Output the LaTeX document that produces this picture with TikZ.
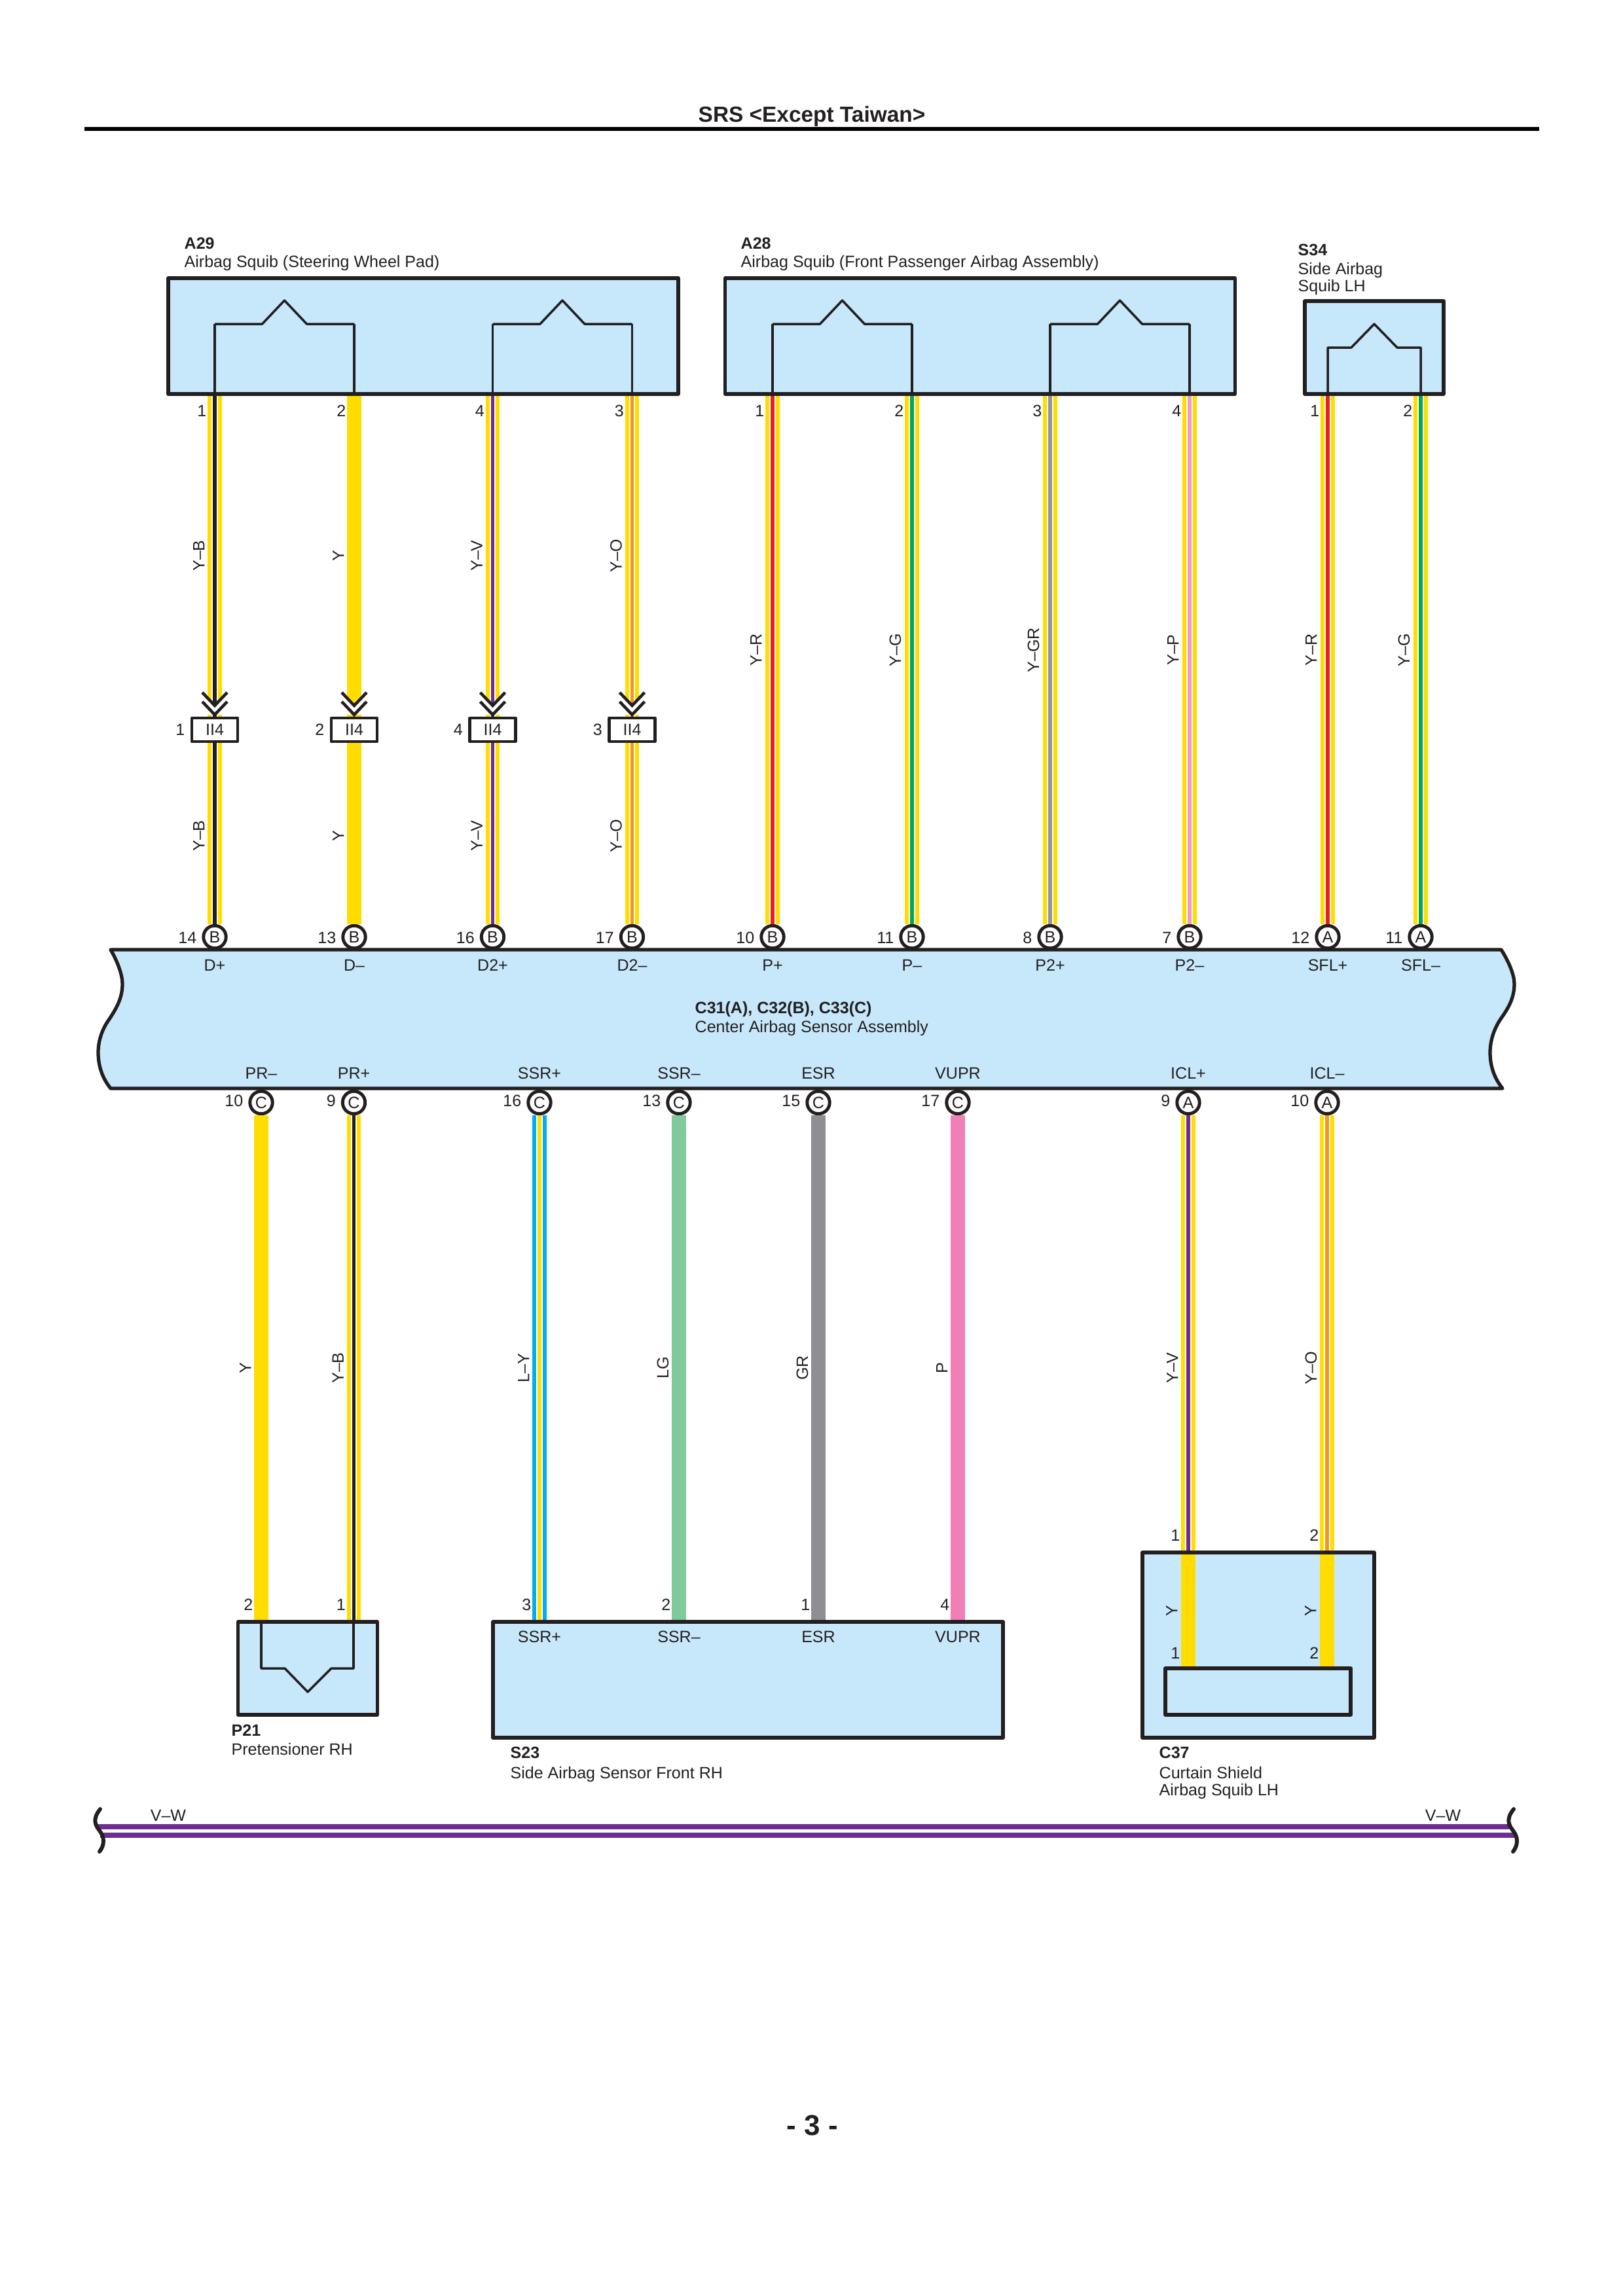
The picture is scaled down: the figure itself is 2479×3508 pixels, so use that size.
\documentclass[tikz,border=0pt]{standalone}
\usepackage{fontspec}
\setmainfont{Liberation Sans}
\definecolor{boxblue}{HTML}{C7E8FB}
\definecolor{inkblack}{HTML}{231F20}
\definecolor{wireyellow}{HTML}{FFDD00}
\definecolor{wirepurple}{HTML}{6F2C91}
\definecolor{wireorange}{HTML}{F7941D}
\definecolor{wirered}{HTML}{ED1C24}
\definecolor{wiregreen}{HTML}{00A651}
\definecolor{wiregrey}{HTML}{939598}
\definecolor{wirepink}{HTML}{F49AC1}
\definecolor{wirecyan}{HTML}{00AEEF}
\definecolor{wirelg}{HTML}{80C99B}
\definecolor{wiregr}{HTML}{8E8E93}
\definecolor{wirep}{HTML}{EF7FB5}
\tikzset{
  wire/.style 2 args={draw=#1,line width=6pt,postaction={draw=white,line width=2.7pt},postaction={draw=#2,line width=1.5pt}},
  wireYB/.style={wire={wireyellow}{inkblack}},
  wireYV/.style={wire={wireyellow}{wirepurple}},
  wireYO/.style={wire={wireyellow}{wireorange}},
  wireYR/.style={wire={wireyellow}{wirered}},
  wireYG/.style={wire={wireyellow}{wiregreen}},
  wireYGR/.style={wire={wireyellow}{wiregrey}},
  wireYP/.style={wire={wireyellow}{wirepink}},
  wireLY/.style={wire={wirecyan}{wireyellow}},
  wireY/.style={draw=wireyellow,line width=6pt},
  wireLG/.style={draw=wirelg,line width=6pt},
  wireGR/.style={draw=wiregr,line width=6pt},
  wireP/.style={draw=wirep,line width=6pt},
  txt/.style={font=\fontsize{7.12}{7.6}\selectfont,text=inkblack,inner sep=0pt},
  boldtxt/.style={txt,font=\fontsize{7.12}{7.6}\selectfont\bfseries},
  wirelbl/.style={txt,rotate=90,anchor=south},
  compbox/.style 2 args={draw=inkblack,fill=boxblue,line width=1.5pt,line join=round,inner sep=0pt,minimum width=#1*0.01cm,minimum height=#2*0.01cm},
  squib/.style={draw=inkblack,line width=1pt,line join=round},
  pinnode/.style={circle,draw=inkblack,fill=white,line width=1.4pt,minimum size=9.8pt,inner sep=0pt,txt},
  ionode/.style={draw=inkblack,fill=white,line width=1.3pt,line join=round,minimum width=0.7cm,minimum height=0.36cm,inner sep=0pt,txt},
  chevron/.style={draw=inkblack,line width=1.3pt,line join=miter},
  chevmask/.style={fill=white},
  bus/.style={draw=wirepurple,line width=2.1pt},
  brk/.style={draw=inkblack,line width=1.7pt,line cap=round}
}
\begin{document}
\begin{tikzpicture}[x=0.01cm,y=-0.01cm]
\useasboundingbox (0,0) rectangle (2479,3508);
\draw (1240,186) node[font=\fontsize{9.5}{10}\selectfont\bfseries,text=inkblack,inner sep=0pt,anchor=base] (title) {SRS <Except Taiwan>};
\draw[draw=black,line width=1.5pt] (129,197) -- (2351,197);
\draw (1241,3262) node[font=\fontsize{12.5}{13}\selectfont\bfseries,text=inkblack,inner sep=0pt,anchor=base] (pageno) {- 3 -};

\node[compbox={779}{177}] (a29) at (646.5,513.5) {};
\node[compbox={779}{177}] (a28) at (1497,513.5) {};
\node[compbox={212}{142}] (s34) at (2099,531) {};
\node[compbox={213}{142}] (p21) at (470,2549) {};
\node[compbox={779}{177}] (s23) at (1142.5,2566.5) {};
\node[compbox={354}{283}] (c37) at (1922,2513.5) {};
\node[compbox={283}{71}] (c37in) at (1921.5,2584.5) {};

\draw (281,380) node[boldtxt,anchor=base west] (a29id) {A29};
\draw (281,408) node[txt,anchor=base west] (a29txt) {Airbag Squib (Steering Wheel Pad)};
\draw (1131,380) node[boldtxt,anchor=base west] (a28id) {A28};
\draw (1131,408) node[txt,anchor=base west] (a28txt) {Airbag Squib (Front Passenger Airbag Assembly)};
\draw (1982,390) node[boldtxt,anchor=base west] (s34id) {S34};
\draw (1982,419) node[txt,anchor=base west] (s34txt) {Side Airbag};
\draw (1982,445) node[txt,anchor=base west] (s34txtb) {Squib LH};
\draw (353,2652) node[boldtxt,anchor=base west] (p21id) {P21};
\draw (353,2681) node[txt,anchor=base west] (p21txt) {Pretensioner RH};
\draw (779,2686) node[boldtxt,anchor=base west] (s23id) {S23};
\draw (779,2717) node[txt,anchor=base west] (s23txt) {Side Airbag Sensor Front RH};
\draw (1770,2686) node[boldtxt,anchor=base west] (c37id) {C37};
\draw (1770,2717) node[txt,anchor=base west] (c37txt) {Curtain Shield};
\draw (1770,2743) node[txt,anchor=base west] (c37txtb) {Airbag Squib LH};

\foreach \x in {328,541,752.5,965.5,1180,1393,1604,1817}
\draw[squib] (\x,602) -- (\x,495);
\foreach \xa/\xb in {328/541,752.5/965.5,1180/1393,1604/1817}
\draw[squib] (\xa,495) -- ({(\xa+\xb)/2-34},495) -- ({(\xa+\xb)/2},459) -- ({(\xa+\xb)/2+34},495) -- (\xb,495);
\draw[squib] (2028,602) -- (2028,531) -- (2064,531) -- (2099,495) -- (2134,531) -- (2170,531) -- (2170,602);
\draw[squib] (399,2478) -- (399,2549) -- (435,2549) -- (470,2585) -- (506,2549) -- (540,2549) -- (540,2478);

\draw[draw=inkblack,fill=boxblue,line width=1.5pt,line join=round] (169,1451) -- (2293,1451)
  .. controls (2305,1470) and (2313,1490) .. (2313,1503)
  .. controls (2313,1525) and (2304,1540) .. (2292,1557)
  .. controls (2282,1572) and (2276,1590) .. (2276,1608)
  .. controls (2276,1630) and (2283,1648) .. (2295,1663)
  -- (169,1663)
  .. controls (157,1648) and (150,1630) .. (150,1608)
  .. controls (150,1590) and (156,1572) .. (167,1557)
  .. controls (178,1540) and (187,1525) .. (187,1503)
  .. controls (187,1490) and (180,1470) .. (169,1451) -- cycle;
\draw (1061,1548) node[boldtxt,anchor=base west] (ecuid) {C31(A), C32(B), C33(C)};
\draw (1061,1577) node[txt,anchor=base west] (ecutxt) {Center Airbag Sensor Assembly};

\foreach \x/\n/\bn/\ion/\pn/\sig/\sty/\lab in {
328/a/1/1/14/D+/wireYB/Y–B,
541/b/2/2/13/D–/wireY/Y,
752.5/c/4/4/16/D2+/wireYV/Y–V,
965.5/d/3/3/17/D2–/wireYO/Y–O}
{
\node[pinnode] (top\n) at (\x,1431.5) {B};
\node[ionode] (io\n) at (\x,1115) {II4};
\draw[\sty] (io\n.north |- a29.south) -- (io\n.north);
\fill[chevmask] (\x-11,1067) -- (\x,1079) -- (\x+11,1067) -- (\x+11,1092) -- (\x-11,1092) -- cycle;
\draw[chevron] (\x-19,1058) -- (\x,1078) -- (\x+19,1058);
\draw[chevron] (\x-19,1072) -- (\x,1092) -- (\x+19,1072);
\draw[\sty] (io\n.south) -- (top\n.north);
\draw (\x-12,636) node[txt,anchor=base east] (bn\n) {\bn};
\draw (\x-45,1123) node[txt,anchor=base east] (ion\n) {\ion};
\draw (\x-27,1441) node[txt,anchor=base east] (pn\n) {\pn};
\draw (\x,1483) node[txt,anchor=base] (sig\n) {\sig};
\draw (\x-15,849) node[wirelbl] (laba\n) {\lab};
\draw (\x-15,1277) node[wirelbl] (labb\n) {\lab};
}

\foreach \x/\n/\tgt/\bn/\pn/\pl/\sig/\sty/\lab in {
1180/e/a28/1/10/B/P+/wireYR/Y–R,
1393/f/a28/2/11/B/P–/wireYG/Y–G,
1604/g/a28/3/8/B/P2+/wireYGR/Y–GR,
1817/h/a28/4/7/B/P2–/wireYP/Y–P,
2028/i/s34/1/12/A/SFL+/wireYR/Y–R,
2170/j/s34/2/11/A/SFL–/wireYG/Y–G}
{
\node[pinnode] (top\n) at (\x,1431.5) {\pl};
\draw[\sty] (top\n.north |- \tgt.south) -- (top\n.north);
\draw (\x-12,636) node[txt,anchor=base east] (bn\n) {\bn};
\draw (\x-27,1441) node[txt,anchor=base east] (pn\n) {\pn};
\draw (\x,1483) node[txt,anchor=base] (sig\n) {\sig};
\draw (\x-16,993) node[wirelbl] (laba\n) {\lab};
}

\foreach \x/\n/\tgt/\bn/\pn/\pl/\sig/\sty/\lab in {
399/k/p21/2/10/C/PR–/wireY/Y,
540.5/l/p21/1/9/C/PR+/wireYB/Y–B,
824/m/s23/3/16/C/SSR+/wireLY/L–Y,
1037/o/s23/2/13/C/SSR–/wireLG/LG,
1250/q/s23/1/15/C/ESR/wireGR/GR,
1463/r/s23/4/17/C/VUPR/wireP/P,
1815/s/c37/1/9/A/ICL+/wireYV/Y–V,
2027/t/c37/2/10/A/ICL–/wireYO/Y–O}
{
\node[pinnode] (bot\n) at (\x,1684.5) {\pl};
\draw[\sty] (bot\n.south) -- (bot\n.south |- \tgt.north);
\path (bot\n.south |- \tgt.north) ++(-12,-15) node[txt,anchor=base east] (en\n) {\bn};
\draw (\x-27,1690) node[txt,anchor=base east] (pn\n) {\pn};
\draw (\x,1648) node[txt,anchor=base] (sig\n) {\sig};
\draw (\x-15,2090) node[wirelbl] (lab\n) {\lab};
}

\foreach \x/\n/\sig in {824/m/SSR+,1037/o/SSR–,1250/q/ESR,1463/r/VUPR}
\draw (\x,2509) node[txt,anchor=base] (boxsig\n) {\sig};

\foreach \x/\n/\bn in {1815/u/1,2027/v/2}
{
\coordinate (c37in\n) at (\x,2375);
\draw[wireY] (c37in\n) -- (c37in\n |- c37in.north);
\draw (\x-16,2461) node[wirelbl] (lab\n) {Y};
\draw (\x-12,2534) node[txt,anchor=base east] (en\n) {\bn};
}

\coordinate (busa) at (147,2791);
\coordinate (busb) at (2305,2791);
\coordinate (busc) at (153,2804);
\coordinate (busd) at (2317,2804);
\draw[bus] (busa) -- (busb);
\draw[bus] (busc) -- (busd);
\foreach \sx in {0,2159}
\draw[brk,shift={(\sx,0)}] (153,2764) .. controls (147,2772) and (144,2778) .. (146,2786)
  .. controls (148,2795) and (158,2800) .. (158,2813) .. controls (158,2820) and (155,2825) .. (152,2829);
\draw (257,2782) node[txt,anchor=base] (busl) {V–W};
\draw (2204,2782) node[txt,anchor=base] (busr) {V–W};
\end{tikzpicture}
\end{document}
